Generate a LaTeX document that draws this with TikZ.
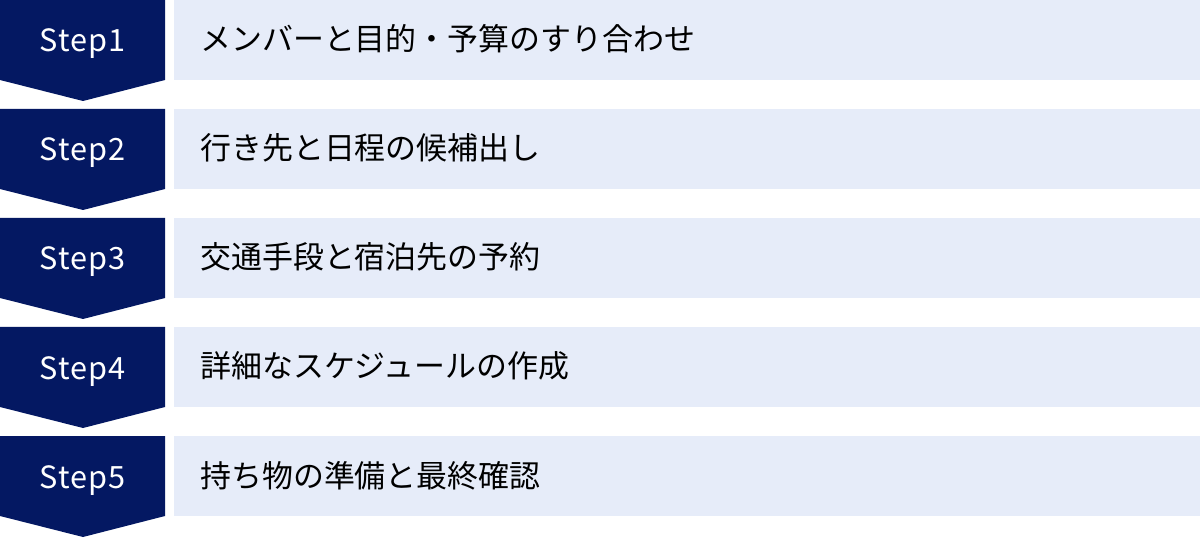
\documentclass[tikz,border=0pt]{standalone}
\usepackage{fontspec}
\setmainfont{Noto Sans CJK JP}
\newfontfamily\stepfont[LetterSpace=3]{Noto Sans CJK JP}
\definecolor{navy}{HTML}{041862}
\definecolor{pale}{HTML}{E6ECF9}
\begin{document}
\begin{tikzpicture}[x=0.75pt,y=-0.75pt,
  chev/.style={fill=navy},
  bar/.style={fill=pale},
  steplbl/.style={text=white,font=\stepfont\fontsize{23}{26}\selectfont,anchor=base,inner sep=0pt},
  desc/.style={text=black,font=\fontsize{23.2}{26}\selectfont,anchor=base west,inner sep=0pt}]
\useasboundingbox (0,0) rectangle (1200,538);
\foreach \i/\t in {0/{メンバーと目的・予算のすり合わせ},1/{行き先と日程の候補出し},2/{交通手段と宿泊先の予約},3/{詳細なスケジュールの作成},4/{持ち物の準備と最終確認}}{
  \pgfmathsetmacro{\yy}{109*\i}
  \pgfmathtruncatemacro{\n}{\i+1}
  \fill[chev] (0,\yy) -- (165,\yy) -- (165,\yy+80) -- (83,\yy+101) -- (0,\yy+80) -- cycle;
  \fill[bar] (174,\yy) rectangle (1200,\yy+80);
  \node[steplbl] (s\n) at (82.5,\yy+52) {Step\n};
  \node[desc] (d\n) at (200,\yy+51) {\t};
}
\end{tikzpicture}
\end{document}
